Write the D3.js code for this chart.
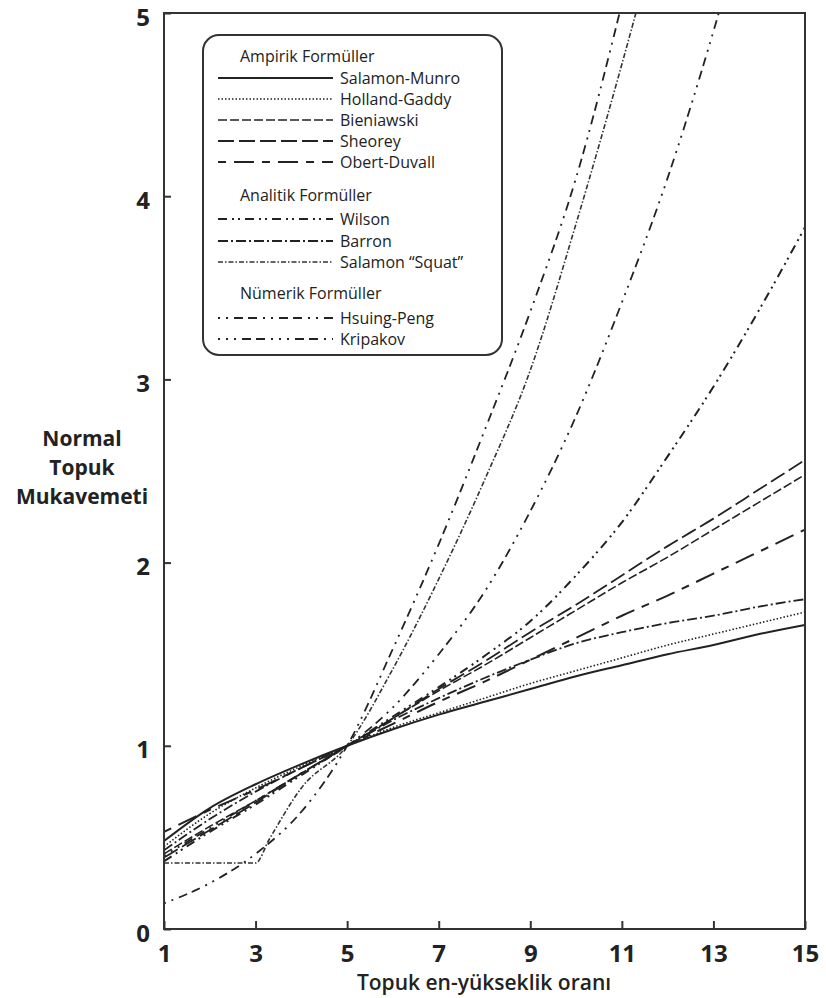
<!DOCTYPE html>
<html>
<head>
<meta charset="utf-8">
<script src="https://cdn.jsdelivr.net/npm/d3@7"></script>
<style>
  body { margin: 0; background: #fff; }
  text { font-family: "Open Sans", sans-serif; fill: #222; }
</style>
</head>
<body>
<script>
// pillar width/height ratio grid
var ratios = [1, 2, 3, 4, 5, 6, 7, 8, 9, 10, 11, 12, 13, 14, 15];
// the squat curve has a sharp knee at 3, so it gets its own ratios
var squatRatios = [1, 2, 3, 3.3, 4, 5, 6, 7, 8, 9, 10, 11, 12];

// normalised pillar strength (null = off chart)
var salamonMunro = [0.48, 0.66, 0.79, 0.90, 1, 1.09, 1.17, 1.24, 1.31, 1.38, 1.44, 1.50, 1.55, 1.61, 1.66];
var hollandGaddy = [0.45, 0.63, 0.77, 0.89, 1, 1.10, 1.18, 1.26, 1.34, 1.41, 1.48, 1.55, 1.61, 1.67, 1.73];
var bieniawski   = [0.41, 0.56, 0.70, 0.85, 1, 1.15, 1.30, 1.44, 1.59, 1.74, 1.89, 2.03, 2.18, 2.33, 2.48];
var sheorey      = [0.39, 0.54, 0.69, 0.85, 1, 1.15, 1.31, 1.46, 1.62, 1.77, 1.93, 2.09, 2.24, 2.40, 2.56];
var obertDuvall  = [0.53, 0.65, 0.76, 0.88, 1, 1.12, 1.24, 1.35, 1.47, 1.59, 1.71, 1.82, 1.94, 2.06, 2.18];
var wilson       = [0.37, 0.53, 0.68, 0.84, 1, 1.16, 1.32, 1.49, 1.68, 1.93, 2.22, 2.58, 2.96, 3.38, 3.83];
var barron       = [0.43, 0.60, 0.75, 0.88, 1, 1.14, 1.26, 1.37, 1.47, 1.56, 1.62, 1.67, 1.71, 1.76, 1.80];
var salamonSquat = [0.36, 0.36, 0.36, 0.49, 0.77, 1, 1.42, 1.91, 2.45, 3.05, 3.85, 4.72, 5.65];
var hsuingPeng   = [0.14, 0.25, 0.41, 0.64, 1, 1.53, 2.10, 2.72, 3.37, 4.10, 5.05, null, null, null, null];
var kripakov     = [0.40, 0.55, 0.70, 0.85, 1, 1.21, 1.50, 1.84, 2.28, 2.80, 3.42, 4.10, 4.90, 5.80, null];

var xTicks = [1, 3, 5, 7, 9, 11, 13, 15];
var yTicks = [0, 1, 2, 3, 4, 5];

var groups = [
  {title: "Ampirik Formüller", items: [
    {name: "Salamon-Munro", values: salamonMunro, dash: null, width: 2},
    {name: "Holland-Gaddy", values: hollandGaddy, dash: "1.5,2", width: 1.6},
    {name: "Bieniawski", values: bieniawski, dash: "9,3", width: 1.6},
    {name: "Sheorey", values: sheorey, dash: "16,5", width: 1.8},
    {name: "Obert-Duvall", values: obertDuvall, dash: "8,8,20,8", width: 2}
  ]},
  {title: "Analitik Formüller", items: [
    {name: "Wilson", values: wilson, dash: "9,5,2,4,2,5", width: 2},
    {name: "Barron", values: barron, dash: "10,3,2,3", width: 1.8},
    {name: "Salamon \u201cSquat\u201d", values: salamonSquat, xs: squatRatios, dash: "5,2,1.5,2", width: 1.6, color: "#333"}
  ]},
  {title: "Nümerik Formüller", items: [
    {name: "Hsuing-Peng", values: hsuingPeng, dash: "2,6,2,6,9,5,9,6", width: 1.8},
    {name: "Kripakov", values: kripakov, dash: "2,6,2,6,2,6,9,5,9,6", width: 1.8}
  ]}
];

var W = 826, H = 998;
var svg = d3.select("body").append("svg").attr("width", W).attr("height", H);

var x = d3.scaleLinear().domain([1, 15]).range([164, 805]);
var y = d3.scaleLinear().domain([0, 5]).range([929, 13]);

svg.append("clipPath").attr("id", "plot")
  .append("rect").attr("x", 164).attr("y", 13).attr("width", 641).attr("height", 916);

var line = d3.line()
  .defined(function(d) { return d[1] != null; })
  .x(function(d) { return x(d[0]); })
  .y(function(d) { return y(d[1]); })
  .curve(d3.curveMonotoneX);

var curves = svg.append("g").attr("clip-path", "url(#plot)");
groups.forEach(function(g) {
  g.items.forEach(function(s) {
    var xs = s.xs || ratios;
    var pts = xs.map(function(r, i) { return [r, s.values[i]]; });
    curves.append("path")
      .attr("d", line(pts))
      .attr("fill", "none")
      .attr("stroke", s.color || "#222")
      .attr("stroke-width", s.width)
      .attr("stroke-dasharray", s.dash);
  });
});

// frame
svg.append("rect").attr("x", 164).attr("y", 13).attr("width", 641).attr("height", 916)
  .attr("fill", "none").attr("stroke", "#333").attr("stroke-width", 2);

// axes
var xAxis = d3.axisBottom(x).tickValues(xTicks).tickSize(-8).tickPadding(16);
var yAxis = d3.axisLeft(y).tickValues(yTicks).tickSize(-7).tickPadding(14).tickFormat(d3.format("d"));

svg.append("g").attr("class", "axis").attr("transform", "translate(0,929)").call(xAxis);
var gy = svg.append("g").attr("class", "axis").attr("transform", "translate(164,0)").call(yAxis);
gy.selectAll("text").attr("dy", "0.5em");

svg.selectAll(".axis path").remove();
svg.selectAll(".axis line").attr("stroke", "#333").attr("stroke-width", 2);
svg.selectAll(".axis text")
  .style("font-family", "'Open Sans', sans-serif")
  .style("font-size", "24px").style("font-weight", "bold").attr("fill", "#222");

// axis titles
svg.append("text").attr("x", 484).attr("y", 990).attr("text-anchor", "middle")
  .style("font-size", "21px").style("font-weight", 600).text("Topuk en-yükseklik oranı");

["Normal", "Topuk", "Mukavemeti"].forEach(function(t, i) {
  svg.append("text").attr("x", 82).attr("y", 446 + i * 29).attr("text-anchor", "middle")
    .style("font-size", "21px").style("font-weight", "bold").text(t);
});

// legend
var lg = svg.append("g");
lg.append("rect").attr("x", 203).attr("y", 35).attr("width", 299).attr("height", 320)
  .attr("rx", 16).attr("fill", "#fff").attr("stroke", "#333").attr("stroke-width", 2);

var rowY = [[56, 78, 99, 120, 141, 162], [195, 219, 241, 262], [293, 318, 339]];
groups.forEach(function(g, gi) {
  lg.append("text").attr("x", 240).attr("y", rowY[gi][0]).attr("dy", "0.35em")
    .style("font-size", "16px").text(g.title);
  g.items.forEach(function(s, i) {
    var yy = rowY[gi][i + 1];
    lg.append("line").attr("x1", 218).attr("x2", 333).attr("y1", yy).attr("y2", yy)
      .attr("stroke", s.color || "#222").attr("stroke-width", s.width)
      .attr("stroke-dasharray", s.dash);
    lg.append("text").attr("x", 340).attr("y", yy).attr("dy", "0.35em")
      .style("font-size", "16px").text(s.name);
  });
});
</script>
</body>
</html>
